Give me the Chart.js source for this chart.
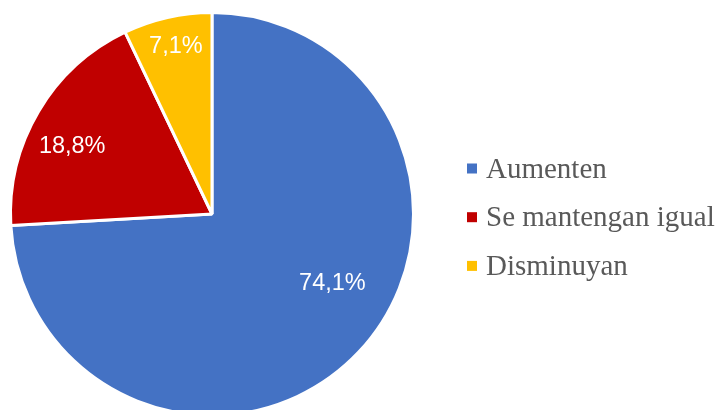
<!DOCTYPE html>
<html>
<head>
<meta charset="utf-8">
<script src="https://cdn.jsdelivr.net/npm/chart.js@4"></script>
<style>
  html, body { margin: 0; padding: 0; background: #fff; overflow: hidden; }
  #wrap { width: 718px; height: 430px; }
</style>
</head>
<body>
<div id="wrap"><canvas id="chart"></canvas></div>
<script>
// data
const categories = ['Aumenten', 'Se mantengan igual', 'Disminuyan'];
const shares = [74.1, 18.8, 7.1];
const sliceColors = ['#4472C4', '#C00000', '#FFC000'];

// where Excel put the labels (angle shift in degrees, radius fraction)
const labelShift = [-13.4, -4.9, 0.6];
const labelRadius = [0.69, 0.77, 0.85];

const fmt = v => v.toFixed(1).replace('.', ',') + '%';

// labels on slices + legend on the right
const pieText = {
    id: 'pieText',
    afterDatasetsDraw(chart) {
        const ctx = chart.ctx;
        const arcs = chart.getDatasetMeta(0).data;
        ctx.save();
        ctx.fillStyle = '#fff';
        ctx.font = '23.5px "Liberation Sans", Arial, sans-serif';
        ctx.textAlign = 'center';
        ctx.textBaseline = 'middle';
        arcs.forEach((arc, i) => {
            const mid = (arc.startAngle + arc.endAngle) / 2 + labelShift[i] * Math.PI / 180;
            const r = arc.outerRadius * labelRadius[i];
            ctx.fillText(fmt(shares[i]), arc.x + Math.cos(mid) * r, arc.y + Math.sin(mid) * r);
        });

        // legend
        ctx.font = '29px "Liberation Serif", "Times New Roman", serif';
        ctx.textAlign = 'left';
        ctx.textBaseline = 'alphabetic';
        categories.forEach((name, i) => {
            const y = 168.5 + i * 48.7;
            ctx.fillStyle = sliceColors[i];
            ctx.fillRect(467, y - 5, 10, 10);
            ctx.fillStyle = '#595959';
            ctx.fillText(name, 486, y + 9);
        });
        ctx.restore();
    }
};

const chart = new Chart(document.getElementById('chart'), {
    type: 'pie',
    data: {
        labels: categories,
        datasets: [{
            data: shares,
            backgroundColor: sliceColors,
            borderColor: '#fff',
            borderWidth: 3
        }]
    },
    options: {
        responsive: true,
        maintainAspectRatio: false,
        animation: false,
        layout: { padding: { left: 9, top: 11, right: 303, bottom: 13 } },
        plugins: {
            legend: { display: false },
            tooltip: { enabled: false }
        }
    },
    plugins: [pieText]
});
</script>
</body>
</html>
